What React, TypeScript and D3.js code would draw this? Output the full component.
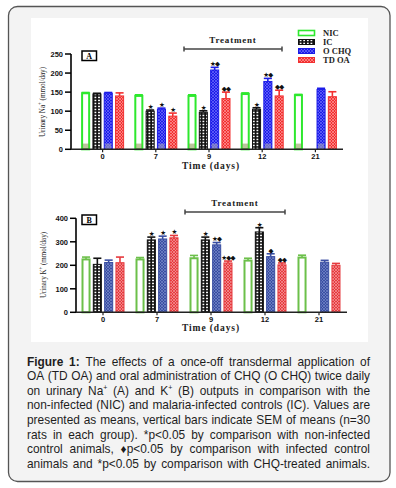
import React, { useEffect, useRef } from 'react';
import * as d3 from 'd3';

const days = ['0', '7', '9', '12', '21'];
const groups = ['NIC', 'IC', 'O CHQ', 'TD OA'];

// Panel A: urinary Na+ (mmol/day), means and SEM
const naNIC = [147, 140, 140, 145, 142];
const naIC = [145, 100, 97, 105, null];
const naCHQ = [147, 105, 208, 178, 157];
const naOA = [140, 87, 133, 140, 138];
const naNICsem = [2, 3, 3, 3, 2];
const naICsem = [2, 3, 4, 4, null];
const naCHQsem = [2, 3, 7, 8, 3];
const naOAsem = [8, 8, 17, 15, 13];
const naICmark = ['', '★', '★', '★', ''];
const naCHQmark = ['', '★', '★◆', '★◆', ''];
const naOAmark = ['', '★', '◆◆', '◆◆', ''];
const naTicks = [0, 50, 100, 150, 200, 250];

// Panel B: urinary K+ (mmol/day), means and SEM
const kNIC = [225, 225, 230, 220, 233];
const kIC = [204, 308, 308, 342, null];
const kCHQ = [212, 312, 287, 237, 213];
const kOA = [211, 317, 210, 202, 200];
const kNICsem = [10, 8, 12, 10, 10];
const kICsem = [26, 12, 12, 18, null];
const kCHQsem = [10, 12, 10, 12, 8];
const kOAsem = [24, 10, 8, 8, 8];
const kICmark = ['', '★', '★', '★', ''];
const kCHQmark = ['', '★', '★◆', '◆', ''];
const kOAmark = ['', '★', '★◆◆', '◆◆', ''];
const kTicks = [0, 100, 200, 300, 400];

const captionLines = [
  'Figure 1: The effects of a once-off transdermal application of',
  'OA (TD OA) and oral administration of CHQ (O CHQ) twice daily',
  'on urinary Na^+ (A) and K^+ (B) outputs in comparison with the',
  'non-infected (NIC) and malaria-infected controls (IC). Values are',
  'presented as means, vertical bars indicate SEM of means (n=30',
  'rats in each group). *p<0.05 by comparison with non-infected',
  'control animals, ♦p<0.05 by comparison with infected control',
  'animals and *p<0.05 by comparison with CHQ-treated animals.',
];

const serif = "'Liberation Serif', 'DejaVu Serif', serif";
const sans = "'Liberation Sans', Arial, sans-serif";

const App = () => {
  const ref = useRef(null);

  useEffect(() => {
    const svg = d3.select(ref.current);
    svg.selectAll('*').remove();

    const defs = svg.append('defs');
    const ic = defs.append('pattern').attr('id', 'icPat').attr('patternUnits', 'userSpaceOnUse')
      .attr('width', 3.6).attr('height', 3);
    ic.append('rect').attr('width', 3.6).attr('height', 3).attr('fill', '#111');
    ic.append('rect').attr('x', 0.9).attr('y', 0.7).attr('width', 1.8).attr('height', 1.5).attr('fill', '#fff');
    const hatch = (id, base, light) => {
      const p = defs.append('pattern').attr('id', id).attr('patternUnits', 'userSpaceOnUse')
        .attr('width', 3).attr('height', 3);
      p.append('rect').attr('width', 3).attr('height', 3).attr('fill', base);
      p.append('path').attr('d', 'M0,0L3,3M3,0L0,3').attr('stroke', light).attr('stroke-width', 0.6);
    };
    hatch('chqA', '#1c1ce8', '#7a7aff');
    hatch('chqB', '#3a4ea2', '#8090d0');
    hatch('oaA', '#f23030', '#ffaaaa');
    hatch('oaB', '#e63a3e', '#f7a8aa');

    // frame
    svg.append('rect').attr('x', 8.5).attr('y', 6.5).attr('width', 381.5).attr('height', 475)
      .attr('rx', 9).attr('fill', '#f3f3f3').attr('stroke', '#555').attr('stroke-width', 1.3);
    svg.append('rect').attr('x', 31).attr('y', 18).attr('width', 337).attr('height', 324).attr('fill', '#fff');

    const drawPanel = (cfg) => {
      const g = svg.append('g');
      const y = d3.scaleLinear().domain([0, cfg.yMax]).range([cfg.y0, cfg.yTop]);
      const x = d3.scaleBand().domain(days).range([76, cfg.xEnd - 1]);
      const xi = d3.scaleBand().domain(groups).range([-21.5, 21.5]).paddingInner(0.2);
      const bw = xi.bandwidth();

      const series = groups.map((name, k) => ({
        name, means: cfg.means[k], sems: cfg.sems[k], marks: cfg.marks[k], color: cfg.colors[k], fill: cfg.fills[k],
      }));

      series.forEach((s) => {
        const items = days.map((d, i) => ({ d, v: s.means[i], e: s.sems[i], m: s.marks[i] }))
          .filter((it) => it.v != null);
        const gx = (it) => x(it.d) + x.bandwidth() / 2 + xi(s.name);
        // error bars
        items.forEach((it) => {
          const cx = gx(it) + bw / 2;
          g.append('line').attr('x1', cx).attr('x2', cx).attr('y1', y(it.v)).attr('y2', y(it.v + it.e))
            .attr('stroke', s.color).attr('stroke-width', 1.6);
          g.append('line').attr('x1', cx - bw / 2 + 0.5).attr('x2', cx + bw / 2 - 0.5)
            .attr('y1', y(it.v + it.e)).attr('y2', y(it.v + it.e))
            .attr('stroke', s.color).attr('stroke-width', 1.6);
          if (it.m) {
            g.append('text').attr('x', cx).attr('y', y(it.v + it.e) - 1.2).attr('text-anchor', 'middle')
              .attr('font-family', "'DejaVu Sans', sans-serif").attr('font-size', 6.5).attr('fill', '#111')
              .attr('letter-spacing', -0.8).text(it.m);
          }
        });
        g.selectAll(null).data(items).enter().append('rect')
          .attr('x', (it) => gx(it) + (s.name === 'NIC' ? 1 : 0.5))
          .attr('y', (it) => y(it.v))
          .attr('width', bw - (s.name === 'NIC' ? 2 : 1))
          .attr('height', (it) => y(0) - y(it.v))
          .attr('fill', s.fill).attr('stroke', s.color).attr('stroke-width', s.name === 'NIC' ? 2 : 1);
        if (cfg.overlay && (s.name === 'NIC' || s.name === 'O CHQ')) {
          g.selectAll(null).data(items).enter().append('rect')
            .attr('x', (it) => gx(it) + 1.5).attr('y', y(15)).attr('width', bw - 3).attr('height', y(0) - y(15))
            .attr('fill', s.name === 'NIC' ? 'rgba(120,140,60,0.5)' : 'rgba(150,150,190,0.7)');
        }
      });

      // axes
      g.append('line').attr('x1', cfg.axisX).attr('x2', cfg.axisX).attr('y1', cfg.yTop).attr('y2', cfg.y0 + 0.7)
        .attr('stroke', '#000').attr('stroke-width', 1.6);
      g.append('line').attr('x1', cfg.axisX).attr('x2', cfg.xEnd).attr('y1', cfg.y0).attr('y2', cfg.y0)
        .attr('stroke', '#222').attr('stroke-width', 1.4);
      cfg.ticks.forEach((t) => {
        g.append('line').attr('x1', cfg.axisX - 6).attr('x2', cfg.axisX).attr('y1', y(t)).attr('y2', y(t))
          .attr('stroke', '#000').attr('stroke-width', 1.5);
        g.append('text').attr('x', cfg.axisX - 8).attr('y', y(t) + 2.7).attr('text-anchor', 'end')
          .attr('font-family', sans).attr('font-weight', 'bold').attr('font-size', 7.5).attr('fill', '#111').text(t);
      });
      days.forEach((d) => {
        const cx = x(d) + x.bandwidth() / 2;
        g.append('line').attr('x1', cx).attr('x2', cx).attr('y1', cfg.y0).attr('y2', cfg.y0 + 3)
          .attr('stroke', '#222').attr('stroke-width', 1.2);
        g.append('text').attr('x', cx).attr('y', cfg.y0 + 9.5).attr('text-anchor', 'middle')
          .attr('font-family', sans).attr('font-weight', 'bold').attr('font-size', 7.5).attr('fill', '#111').text(d);
      });

      // y label
      const yl = g.append('text').attr('transform', `translate(${cfg.labelX},${cfg.labelY}) rotate(-90)`)
        .attr('text-anchor', 'middle').attr('font-family', serif).attr('font-size', 8).attr('fill', '#222')
        .attr('textLength', cfg.labelLen).attr('lengthAdjust', 'spacingAndGlyphs');
      yl.append('tspan').text(cfg.ion);
      yl.append('tspan').attr('dy', -3).attr('font-size', 5.5).text('+');
      yl.append('tspan').attr('dy', 3).text(' (mmol/day)');

      // x label
      g.append('text').attr('x', 211).attr('y', cfg.timeY).attr('text-anchor', 'middle')
        .attr('font-family', serif).attr('font-weight', 'bold').attr('font-size', 9.5).attr('letter-spacing', 0.9)
        .attr('fill', '#222').text('Time (days)');

      // panel letter
      g.append('rect').attr('x', 82).attr('y', cfg.boxY).attr('width', 14.5).attr('height', 9.5)
        .attr('fill', '#fff').attr('stroke', '#000').attr('stroke-width', 1.5);
      g.append('text').attr('x', 89.2).attr('y', cfg.boxY + 7.5).attr('text-anchor', 'middle')
        .attr('font-family', serif).attr('font-weight', 'bold').attr('font-size', 8).text(cfg.letter);

      // treatment bracket
      const t = cfg.treat;
      g.append('text').attr('x', (t.x1 + t.x2) / 2).attr('y', t.y - 6).attr('text-anchor', 'middle')
        .attr('font-family', serif).attr('font-weight', 'bold').attr('font-size', 9).attr('letter-spacing', 0.8)
        .attr('fill', '#222').text('Treatment');
      g.append('line').attr('x1', t.x1).attr('x2', t.x2).attr('y1', t.y).attr('y2', t.y)
        .attr('stroke', '#444').attr('stroke-width', 1.3);
      [t.x1, t.x2].forEach((xx) => g.append('line').attr('x1', xx).attr('x2', xx)
        .attr('y1', t.y - 2.5).attr('y2', t.y + 2.5).attr('stroke', '#444').attr('stroke-width', 1.5));
    };

    drawPanel({
      means: [naNIC, naIC, naCHQ, naOA], sems: [naNICsem, naICsem, naCHQsem, naOAsem],
      marks: [['', '', '', '', ''], naICmark, naCHQmark, naOAmark],
      colors: ['#2ee82e', '#111', '#1c1ce8', '#f23030'],
      fills: ['#fff', 'url(#icPat)', 'url(#chqA)', 'url(#oaA)'],
      yMax: 250, ticks: naTicks, y0: 149.3, yTop: 54, axisX: 71, xEnd: 343, overlay: true,
      ion: 'Urinary Na', labelX: 45, labelY: 102, labelLen: 70, timeY: 169, boxY: 51, letter: 'A',
      treat: { x1: 184, x2: 282, y: 49 },
    });
    drawPanel({
      means: [kNIC, kIC, kCHQ, kOA], sems: [kNICsem, kICsem, kCHQsem, kOAsem],
      marks: [['', '', '', '', ''], kICmark, kCHQmark, kOAmark],
      colors: ['#6cc04a', '#111', '#3a4ea2', '#e63a3e'],
      fills: ['#fff', 'url(#icPat)', 'url(#chqB)', 'url(#oaB)'],
      yMax: 400, ticks: kTicks, y0: 312.3, yTop: 218.3, axisX: 76, xEnd: 347, overlay: false,
      ion: 'Urinary K', labelX: 46, labelY: 265, labelLen: 66, timeY: 331, boxY: 215, letter: 'B',
      treat: { x1: 185, x2: 285, y: 212 },
    });

    // legend
    const leg = svg.append('g');
    const legColors = ['#2ee82e', '#111', '#1c1ce8', '#f23030'];
    const legFills = ['#fff', 'url(#icPat)', 'url(#chqA)', 'url(#oaA)'];
    groups.forEach((name, i) => {
      const ly = 33 + i * 9;
      leg.append('rect').attr('x', 298.5).attr('y', ly - 2.5).attr('width', 16).attr('height', 5)
        .attr('fill', legFills[i]).attr('stroke', legColors[i]).attr('stroke-width', i === 0 ? 1.6 : 1);
      leg.append('text').attr('x', 323).attr('y', ly + 3).attr('font-family', serif).attr('font-weight', 'bold')
        .attr('font-size', 8.5).attr('fill', '#222').text(name);
    });

    // caption, justified word by word
    const cap = svg.append('g').attr('font-family', sans).attr('font-size', 11.9).attr('fill', '#1e1e1e');
    const left = 27;
    const right = 370;
    captionLines.forEach((line, li) => {
      const by = 365.5 + li * 14.6;
      const words = line.split(' ');
      const nodes = words.map((w, wi) => {
        const t = cap.append('text').attr('y', by);
        if (li === 0 && wi < 2) t.attr('font-weight', 'bold');
        if (w.includes('^')) {
          const [base, sup] = w.split('^');
          t.append('tspan').text(base);
          t.append('tspan').attr('dy', -4.5).attr('font-size', 7).text(sup);
        } else {
          t.text(w);
        }
        return t;
      });
      const widths = nodes.map((n) => n.node().getComputedTextLength());
      const total = d3.sum(widths);
      const gap = Math.max(2.5, (right - left - total) / (nodes.length - 1));
      let cx = left;
      nodes.forEach((n, i) => {
        n.attr('x', cx);
        cx += widths[i] + gap;
      });
    });
  }, []);

  return (
    <svg ref={ref} width={396} height={488} style={{ position: 'absolute', left: 0, top: 0 }} />
  );
};

export default App;
